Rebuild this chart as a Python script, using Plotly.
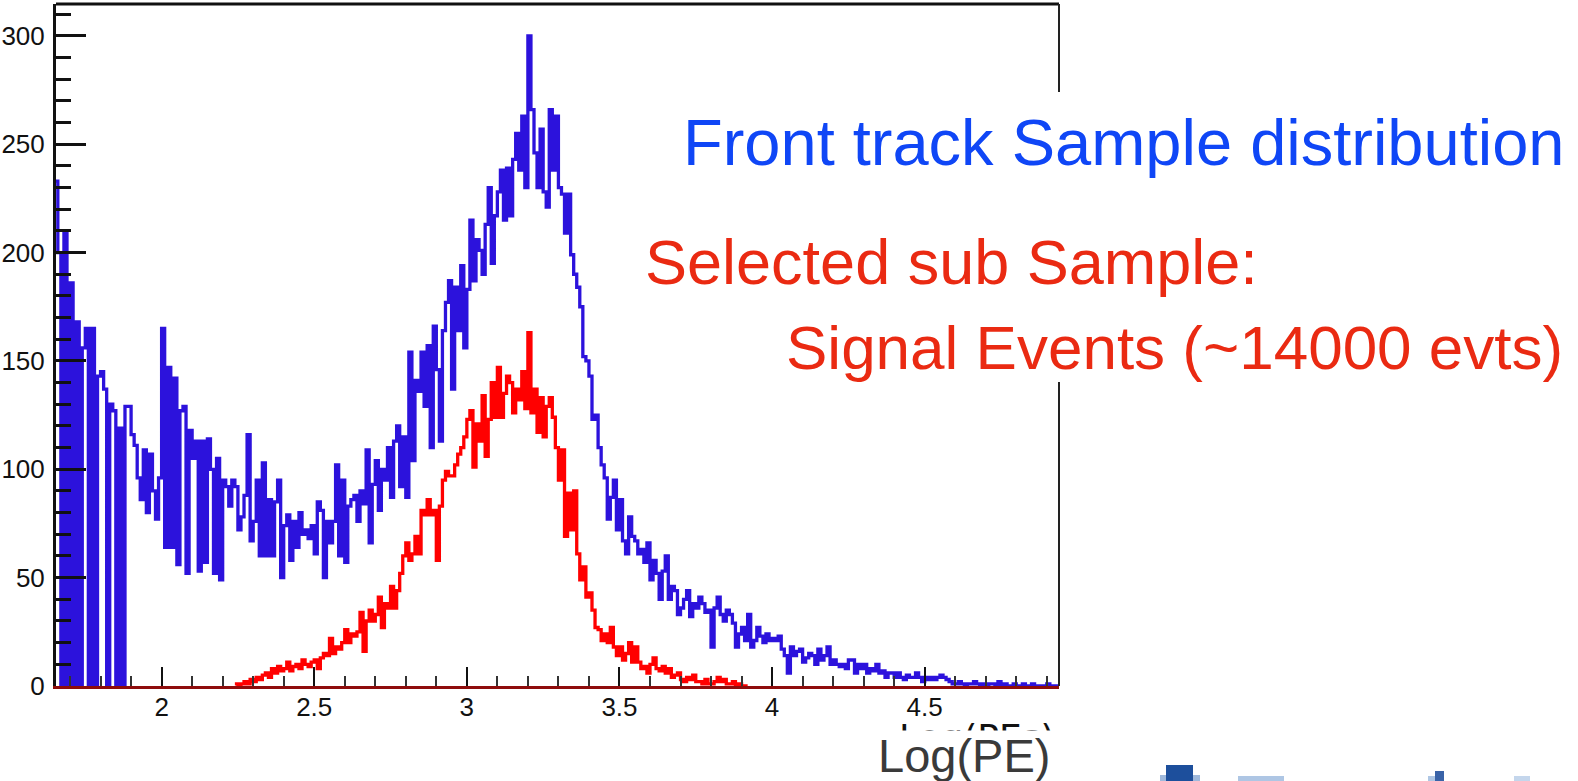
import numpy as np
import plotly.graph_objects as go

# ---------------- data ----------------
bin_start = 1.65
bin_width = 0.01

blue_counts = [
    233, 200, 0, 210, 0, 186, 0, 168, 0, 156, 165, 0, 165, 0, 143, 145, 137, 0, 130, 127,
    0, 119, 0, 129, 129, 116, 111, 96, 86, 109, 80, 107, 90, 77, 96, 165,
    64, 147, 64, 142, 56, 127, 129, 52, 118, 105, 113, 53, 113, 57, 114, 100, 52, 105, 49, 95,
    92, 83, 95, 92, 72, 78, 88,
    116, 67, 76, 95, 60, 103, 60, 86, 60, 85, 95, 50, 74, 79, 58, 76, 64, 80, 70, 72, 68, 74,
    61, 85, 81, 50, 76, 66, 76, 102, 60, 95, 57, 83, 86, 88, 76, 90, 84,
    109, 66, 93, 104, 81, 100, 95, 110, 87, 113, 120, 92, 115, 87, 154, 104, 141, 136, 154, 129,
    157, 110, 166, 146, 113, 164, 177, 187,
    137, 184, 164, 194, 156, 183, 215, 187, 206, 201, 190, 213, 230, 195, 217, 228, 238, 215, 239, 217,
    243, 255, 238, 263, 230, 300, 266, 246, 230, 257, 228, 221, 266, 238, 263, 230, 227, 209, 227, 199,
    190, 184, 175, 152, 150, 143, 123, 125, 110, 102, 96,
    77, 87, 95, 72, 86, 67, 61, 78, 69, 67,
    61, 63, 57, 66, 49, 58, 52, 40, 53, 60, 40, 46,
    44, 33, 36, 40, 44, 32, 38, 36, 41, 38, 34,
    35, 18, 36, 41, 33, 30, 35, 33, 29, 18, 24,
    27, 21, 33, 18, 21, 27, 23, 20, 24, 21, 22,
    21, 23, 17, 14, 6, 18, 14, 16, 17, 11, 13,
    15, 14, 10, 17, 12, 14, 18, 10, 12, 10, 9,
    10, 8, 12, 12, 6, 10, 8, 10, 6, 8, 7,
    10, 6, 7, 4, 6, 6, 4, 6, 4, 3, 5,
    4, 4, 6, 4, 2, 4, 3, 4, 3, 4,
    5, 4, 3, 2, 1, 1, 2, 1, 0, 1,
    1, 2, 1, 0, 1, 0, 1, 1, 0, 2,
    0, 1, 0, 0, 1, 0, 0, 1, 0, 0,
    1, 0, 0, 0, 0, 1, 0, 0, 0, 0,
]

red_first_bin = 59
red_counts = [
    1, 0, 1, 2, 1, 3, 2, 4, 3, 5, 6, 4, 8, 6, 9, 7, 8, 11, 7, 9,
    10, 8, 12, 10, 9, 11, 12, 8, 13, 15, 14, 22, 15, 18, 17, 20, 26, 20, 24, 23,
    25, 34, 16, 30, 35, 30, 33, 41, 27, 38, 36, 46, 36, 44, 52,
    60, 66, 58, 61, 69, 61, 81, 79, 86, 79, 81, 58, 83, 95, 99, 97,
    97, 102, 107, 110, 115, 123, 127, 101, 121, 113, 134, 106, 123, 140, 124, 147, 124, 135, 143, 140,
    126, 137, 132, 145, 128, 163, 126, 137, 117, 133, 115, 129,
    133, 124, 110, 95, 109, 69, 89, 72, 90, 61, 49, 55, 41, 43, 35, 27, 26, 21, 24, 20,
    27, 18, 14, 18, 12, 15, 20, 11, 18, 11, 8, 9, 6, 10, 13, 8, 7, 9, 6, 8,
    4, 5, 6, 3, 2, 4, 3, 5, 2, 2, 1, 3, 1, 1, 2, 4, 2, 3, 1, 1, 2, 0, 1, 0, 0,
]

x_range = [1.654, 4.94]
y_range = [0, 314.7]
x_tick_vals = [2, 2.5, 3, 3.5, 4, 4.5]
x_tick_text = ["2", "2.5", "3", "3.5", "4", "4.5"]
y_tick_vals = [0, 50, 100, 150, 200, 250, 300]
y_tick_text = ["0", "50", "100", "150", "200", "250", "300"]

title_blue = "Front track Sample distribution"
title_red_1 = "Selected sub Sample:"
title_red_2 = "Signal Events (~14000 evts)"
x_title_small = "Log(PEs)"
x_title_big = "Log(PE)"

# ---------------- layout geometry (pixels) ----------------
W, H = 1578, 781
PL, PR, PT, PB = 56, 1059, 4, 686


def px(xp):
    return (xp - PL) / (PR - PL)


def py(yp):
    return (PB - yp) / (PB - PT)


def step_xy(first_bin, counts):
    n = len(counts)
    edges = bin_start + bin_width * (first_bin + np.arange(n + 1))
    ys = list(counts) + [counts[-1]]
    return edges, ys


fig = go.Figure()

bx, by = step_xy(0, blue_counts)
fig.add_trace(go.Scatter(x=bx, y=by, mode="lines", line=dict(shape="hv", color="#2c12dc", width=3.3),
                         showlegend=False, hoverinfo="skip"))
rx, ry = step_xy(red_first_bin, red_counts)
fig.add_trace(go.Scatter(x=rx, y=ry, mode="lines", line=dict(shape="hv", color="#ff0000", width=3.3),
                         showlegend=False, hoverinfo="skip"))

tick_font = dict(family="Liberation Sans", size=26, color="#111111")

fig.update_xaxes(
    range=x_range, showgrid=False, zeroline=False, automargin=False,
    showline=True, linecolor="#8e0c0c", linewidth=3, mirror=False,
    ticks="inside", ticklen=19, tickwidth=2, tickcolor="#111111",
    tickvals=x_tick_vals, ticktext=x_tick_text, tickfont=tick_font,
    ticklabelstandoff=-4,
    minor=dict(ticks="inside", dtick=0.1, ticklen=10, tickwidth=2, tickcolor="#333333"),
)
fig.update_yaxes(
    range=y_range, showgrid=False, zeroline=False, automargin=False,
    showline=True, linecolor="#111111", linewidth=3, mirror=False,
    ticks="inside", ticklen=30, tickwidth=2.5, tickcolor="#111111",
    tickvals=y_tick_vals, ticktext=y_tick_text, tickfont=tick_font,
    ticklabelstandoff=3,
    minor=dict(ticks="inside", dtick=10, ticklen=15, tickwidth=2.5, tickcolor="#111111"),
)

shapes = []
# top frame
shapes.append(dict(type="line", xref="paper", yref="paper", x0=px(PL), x1=px(PR), y0=py(PT), y1=py(PT),
                   line=dict(color="#111111", width=3), layer="above"))
# right frame (interrupted behind the text)
shapes.append(dict(type="line", xref="paper", yref="paper", x0=px(PR), x1=px(PR), y0=py(PT), y1=py(92),
                   line=dict(color="#222222", width=2), layer="above"))
shapes.append(dict(type="line", xref="paper", yref="paper", x0=px(PR), x1=px(PR), y0=py(382), y1=py(PB),
                   line=dict(color="#222222", width=2), layer="above"))
# fragments of a logo at the bottom edge
logo = [
    (1160, 1166, 775, 781, "#9fb9dc"),
    (1166, 1193, 765, 781, "#1d4f9c"),
    (1193, 1200, 775, 781, "#9fb9dc"),
    (1238, 1284, 776, 781, "#aec6e4"),
    (1428, 1435, 776, 781, "#aec6e4"),
    (1435, 1444, 771, 781, "#3a63a8"),
    (1514, 1530, 776, 781, "#c4d6ec"),
]
for x0, x1, y0, y1, c in logo:
    shapes.append(dict(type="rect", xref="paper", yref="paper", x0=px(x0), x1=px(x1), y0=py(y1), y1=py(y0),
                       fillcolor=c, line=dict(width=0), layer="above"))

annotations = [
    dict(text=title_blue, x=px(682), y=py(142), xanchor="left", yanchor="middle",
         font=dict(family="Liberation Sans", size=65, color="#0f46f6")),
    dict(text=title_red_1, x=px(644), y=py(262), xanchor="left", yanchor="middle",
         font=dict(family="Liberation Sans", size=63, color="#ea2a12")),
    dict(text=title_red_2, x=px(785), y=py(347), xanchor="left", yanchor="middle",
         font=dict(family="Liberation Sans", size=62, color="#ea2a12")),
    # original (cut) axis title
    dict(text=x_title_small, x=px(898), y=py(737), xanchor="left", yanchor="middle",
         font=dict(family="DejaVu Sans", size=36, color="#111111")),
    # white band hiding the lower part of the original axis title
    dict(text=" ", x=px(860), y=py(730), xanchor="left", yanchor="top", width=215, height=51,
         bgcolor="white", borderpad=0, font=dict(size=10)),
    dict(text=x_title_big, x=px(877), y=py(756), xanchor="left", yanchor="middle",
         font=dict(family="Liberation Sans", size=47, color="#3a3a3a")),
]
for a in annotations:
    a.update(xref="paper", yref="paper", showarrow=False)
    a.setdefault("borderpad", 0)

fig.update_layout(
    width=W, height=H, autosize=False,
    margin=dict(l=PL, r=W - PR, t=PT, b=H - PB, pad=0, autoexpand=False),
    paper_bgcolor="white", plot_bgcolor="white",
    shapes=shapes, annotations=annotations,
)

fig.write_html("out.html", config={"displayModeBar": False},
               post_script="document.body.style.margin='0';document.body.style.overflow='hidden';")
